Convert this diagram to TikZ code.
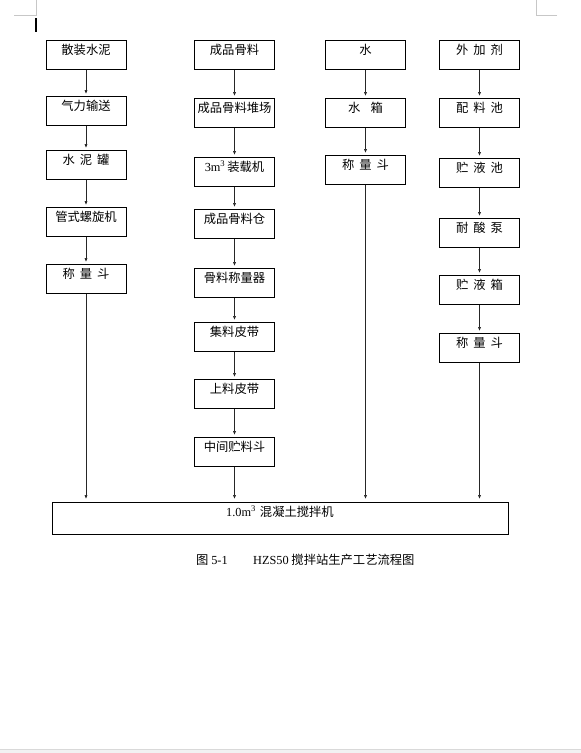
\documentclass[tikz,border=0pt]{standalone}
\usepackage{fontspec}
\setmainfont{Noto Sans CJK SC}
\newfontfamily\tnr{Liberation Serif}
\usetikzlibrary{arrows.meta}
\newcommand\gp{\hspace{5pt}}
\newcommand\cubem{{\tnr m\textsuperscript{3}}}
\tikzset{
  box/.style={draw, line width=0.8pt, minimum width=80pt, inner sep=0pt, outer sep=0pt,
    text height=14pt, text depth=15.5pt, anchor=north, font=\fontsize{12.3pt}{14pt}\selectfont},
  arr/.style={-{Latex[length=4pt,width=3.2pt]}, line width=0.7pt, draw=black!85, shorten >=2pt},
  cropmark/.style={draw=black!22, line width=0.6pt},
  captxt/.style={anchor=west, inner sep=0pt, font=\fontsize{12.3pt}{14pt}\selectfont}
}
\begin{document}
\begin{tikzpicture}[x=1pt,y=-1pt]
\useasboundingbox (0,0) rectangle (581,753);
\fill[white] (0,0) rectangle (581,749);
\fill[black!5] (0,749) rectangle (581,753);
\draw[draw=black!15, line width=0.8pt] (0,749) -- (581,749);
% page corner marks and cursor
\draw[cropmark] (14,15) -- (36,15) -- (36,0);
\draw[cropmark] (557,15) -- (536,15) -- (536,0);
\fill[black] (35,18) rectangle (37,32);
% column 1
\node[box] (a1) at (86,40) {散装水泥};
\node[box] (a2) at (86,96) {气力输送};
\node[box] (a3) at (86,150) {水\gp 泥\gp 罐};
\node[box] (a4) at (86,207) {管式螺旋机};
\node[box] (a5) at (86,264) {称\gp 量\gp 斗};
% column 2
\node[box] (b1) at (234.5,40) {成品骨料};
\node[box] (b2) at (234.5,98) {成品骨料堆场};
\node[box] (b3) at (234.5,157) {{\tnr 3}\cubem\,装载机};
\node[box] (b4) at (234.5,209) {成品骨料仓};
\node[box] (b5) at (234.5,268) {骨料称量器};
\node[box] (b6) at (234.5,322) {集料皮带};
\node[box] (b7) at (234.5,379) {上料皮带};
\node[box] (b8) at (234.5,437) {中间贮料斗};
% column 3
\node[box] (c1) at (365.5,40) {水};
\node[box] (c2) at (365.5,98) {水\hspace{10pt}箱};
\node[box] (c3) at (365.5,155) {称\gp 量\gp 斗};
% column 4
\node[box] (d1) at (479.5,40) {外\gp 加\gp 剂};
\node[box] (d2) at (479.5,98) {配\gp 料\gp 池};
\node[box] (d3) at (479.5,158) {贮\gp 液\gp 池};
\node[box] (d4) at (479.5,218) {耐\gp 酸\gp 泵};
\node[box] (d5) at (479.5,275) {贮\gp 液\gp 箱};
\node[box] (d6) at (479.5,333) {称\gp 量\gp 斗};
% mixer
\node[box, minimum width=456pt, text height=14pt, text depth=18pt] (mix) at (280,502)
  {{\tnr 1.0}\cubem\hspace{4pt}混凝土搅拌机};
% arrows
\foreach \p/\q in {a1/a2,a2/a3,a3/a4,a4/a5,
                   b1/b2,b2/b3,b3/b4,b4/b5,b5/b6,b6/b7,b7/b8,
                   c1/c2,c2/c3,
                   d1/d2,d2/d3,d3/d4,d4/d5,d5/d6}
  \draw[arr] (\p) -- (\q);
\foreach \p in {a5,b8,c3,d6}
  \draw[arr, shorten >=3pt] (\p.south) -- (\p.south |- mix.north);
% caption
\node[captxt] (cap1) at (196,560) {图 {\tnr 5-1}};
\node[captxt] (cap2) at (253,560) {{\tnr HZS50} 搅拌站生产工艺流程图};
\end{tikzpicture}
\end{document}
